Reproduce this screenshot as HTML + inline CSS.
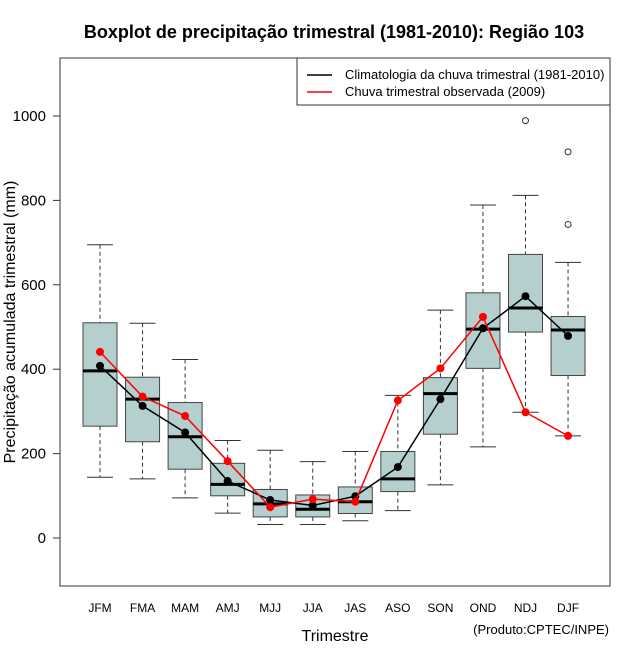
<!DOCTYPE html>
<html><head><meta charset="utf-8"><style>
body{margin:0;background:#fff}
svg text{font-family:"Liberation Sans",sans-serif}
</style></head><body>
<svg id="c" width="640" height="660" xmlns="http://www.w3.org/2000/svg"></svg>
<script>
const categories=["JFM","FMA","MAM","AMJ","MJJ","JJA","JAS","ASO","SON","OND","NDJ","DJF"];
const whiskerHigh=[695,509,423,231,208,181,205,338,540,789,812,653];
const q3=[510,381,321,177,115,102,121,205,380,581,672,525];
const median=[396,329,240,127,81,68,86,140,342,495,545,493];
const q1=[265,228,163,100,50,50,58,110,246,402,488,385];
const whiskerLow=[144,140,95,59,32,32,41,65,126,216,298,242];
const climMean=[408,313,250,135,90,77,99,168,329,497,573,479];
const obs2009=[441,335,289,182,73,92,86,326,402,524,298,242];
const outlierCat=[10,11,11];
const outlierVal=[989,915,743];
const yTicks=[0,200,400,600,800,1000];

const NS="http://www.w3.org/2000/svg";
const svg=document.getElementById('c');
const X0=60,X1=610,Y0=58,Y1=586;
const xs=i=>100+i*42.55;
const ys=v=>538-v*0.422;
function el(t,a,p){const e=document.createElementNS(NS,t);for(const k in a)e.setAttribute(k,a[k]);(p||svg).appendChild(e);return e;}
function tx(s,a){const e=el('text',a);e.textContent=s;return e;}

let t=tx("Boxplot de precipitação trimestral (1981-2010): Região 103",{x:334,y:38,'text-anchor':'middle','font-size':18,'font-weight':'bold'});


for(let i=0;i<categories.length;i++){
  const g=el('g',{});
  
  
  const x=xs(i),w=17,cw=13;
  el('line',{x1:x,x2:x,y1:ys(whiskerHigh[i]),y2:ys(q3[i]),stroke:'#333','stroke-dasharray':'4,3'},g);
  el('line',{x1:x,x2:x,y1:ys(q1[i]),y2:ys(whiskerLow[i]),stroke:'#333','stroke-dasharray':'4,3'},g);
  el('line',{x1:x-cw,x2:x+cw,y1:ys(whiskerHigh[i]),y2:ys(whiskerHigh[i]),stroke:'#333'},g);
  el('line',{x1:x-cw,x2:x+cw,y1:ys(whiskerLow[i]),y2:ys(whiskerLow[i]),stroke:'#333'},g);
  el('rect',{x:x-w,y:ys(q3[i]),width:2*w,height:ys(q1[i])-ys(q3[i]),fill:'#b5cfcf',stroke:'#444'},g);
  el('line',{x1:x-w,x2:x+w,y1:ys(median[i]),y2:ys(median[i]),stroke:'#000','stroke-width':3},g);
}
for(let k=0;k<outlierCat.length;k++){
  const c=el('circle',{cx:xs(outlierCat[k]),cy:ys(outlierVal[k]),r:3,fill:'none',stroke:'#333'});
  
}
function series(vals,col,name){
  const p=el('polyline',{points:vals.map((v,i)=>xs(i)+','+ys(v)).join(' '),fill:'none',stroke:col,'stroke-width':1.5});
  
  vals.forEach((v,i)=>{const c=el('circle',{cx:xs(i),cy:ys(v),r:4,fill:col});
    });
}
series(climMean,'#000','climatology');
series(obs2009,'#f00','observed-2009');

const fr=el('rect',{x:X0,y:Y0,width:X1-X0,height:Y1-Y0,fill:'none',stroke:'#333'});

yTicks.forEach(v=>{
  el('line',{x1:X0-7,x2:X0,y1:ys(v),y2:ys(v),stroke:'#333'});
  const l=tx(String(v),{x:46,y:ys(v)+5,'text-anchor':'end','font-size':15});
  
});
categories.forEach((c,i)=>{
  const l=tx(c,{x:xs(i),y:612,'text-anchor':'middle','font-size':12});
  
});
t=tx("Trimestre",{x:335,y:641,'text-anchor':'middle','font-size':16});

t=tx("Precipitação acumulada trimestral (mm)",{x:0,y:0,'text-anchor':'middle','font-size':16,transform:'translate(15,322) rotate(-90)'});

t=tx("(Produto:CPTEC/INPE)",{x:609,y:634,'text-anchor':'end','font-size':13});


const lg=el('g',{});

el('rect',{x:297,y:58,width:313,height:47,fill:'#fff',stroke:'#333'},lg);
el('line',{x1:307,x2:332,y1:75,y2:75,stroke:'#000','stroke-width':1.5},lg);
el('line',{x1:307,x2:332,y1:92,y2:92,stroke:'#f00','stroke-width':1.5},lg);
let a=el('text',{x:345,y:79,'font-size':13},lg);a.textContent="Climatologia da chuva trimestral (1981-2010)";
a=el('text',{x:345,y:96,'font-size':13},lg);a.textContent="Chuva trimestral observada (2009)";
</script>
</body></html>
